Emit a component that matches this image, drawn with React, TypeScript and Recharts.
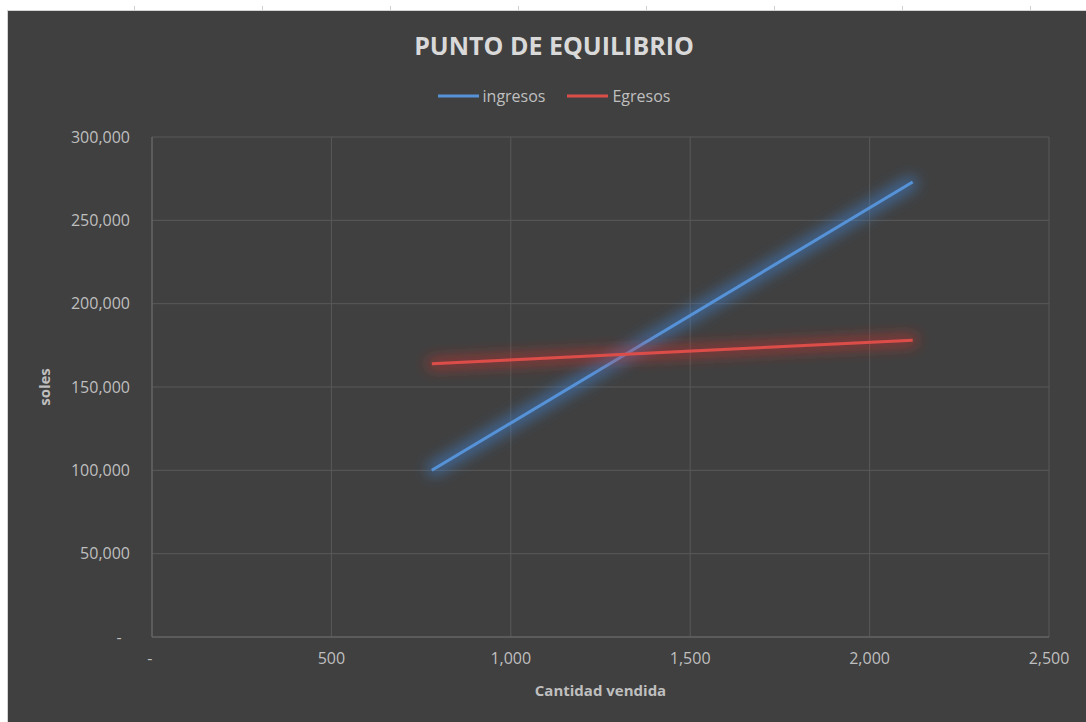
import React from "react";
import { CartesianGrid, Label, Line, LineChart, XAxis, YAxis } from "recharts";

const cantidad = [780, 2120];
const ingresos = [100000, 273000];
const egresos = [164000, 178000];

const xTicks = [0, 500, 1000, 1500, 2000, 2500];
const yTicks = [0, 50000, 100000, 150000, 200000, 250000, 300000];

const seriesNames = ["ingresos", "Egresos"];
const seriesColors = ["#5692D8", "#DC4E48"];

const rows = cantidad.map((c, i) => ({ cantidad: c, ingresos: ingresos[i], egresos: egresos[i] }));

const FONT = "'Open Sans', 'Noto Sans', sans-serif";
const TICK = "#BFBFBF";

const fmtX = (v: number) => (v === 0 ? "-\u00A0" : v.toLocaleString("en-US"));
const fmtY = (v: number) => (v === 0 ? "-\u00A0\u00A0" : v.toLocaleString("en-US"));

function LegendRow() {
  return (
    <div
      style={{
        position: "absolute",
        left: 0,
        width: 1092,
        top: 74,
        display: "flex",
        justifyContent: "center",
        alignItems: "center",
        fontFamily: FONT,
        fontSize: 16,
        color: TICK,
      }}
    >
      {seriesNames.map((name, i) => (
        <div key={name} style={{ display: "flex", alignItems: "center", marginRight: i === 0 ? 22 : 0 }}>
          <svg width={41} height={4} style={{ marginRight: 4 }}>
            <line x1={0} y1={2} x2={41} y2={2} stroke={seriesColors[i]} strokeWidth={3} />
          </svg>
          <span>{name}</span>
        </div>
      ))}
    </div>
  );
}

// soft halo round each line, like the spreadsheet's glow effect
function Glow({ id, color }: { id: string; color: string }) {
  return (
    <filter id={id} filterUnits="userSpaceOnUse" x={0} y={0} width={1100} height={800}>
      <feMorphology in="SourceAlpha" operator="dilate" radius={4} result="thick" />
      <feGaussianBlur in="thick" stdDeviation={7} result="blur" />
      <feFlood floodColor={color} floodOpacity={0.55} />
      <feComposite in2="blur" operator="in" result="glow" />
      <feMerge>
        <feMergeNode in="glow" />
        <feMergeNode in="SourceGraphic" />
      </feMerge>
    </filter>
  );
}

export default function App() {
  return (
    <div style={{ position: "absolute", left: 0, top: 0, width: 1086, height: 722, background: "#fff", overflow: "hidden" }}>
      <svg width={0} height={0} style={{ position: "absolute" }}>
        <defs>
          <Glow id="glowBlue" color="#3F86DA" />
          <Glow id="glowRed" color="#D8302A" />
        </defs>
      </svg>
      {[134, 262, 390, 518, 646, 774, 902, 1030].map((x) => (
        <div key={x} style={{ position: "absolute", left: x, top: 6, width: 1, height: 4, background: "#D0D0D0" }} />
      ))}
      <div
        style={{
          position: "absolute",
          left: 7,
          top: 10,
          width: 1078,
          height: 711,
          background: "#404040",
          borderLeft: "1px solid #D4D4D4",
          borderTop: "1px solid #D4D4D4",
        }}
      >
        <div
          style={{
            position: "absolute",
            left: 0,
            width: 1092,
            top: 17,
            textAlign: "center",
            fontFamily: FONT,
            fontWeight: 700,
            fontSize: 25,
            color: "#D9D9D9",
          }}
        >
          PUNTO DE EQUILIBRIO
        </div>
        <LegendRow />
        <LineChart width={1078} height={711} data={rows} margin={{ top: 126, right: 37, left: 0, bottom: 0 }}>
          <CartesianGrid stroke="#595959" strokeWidth={1} verticalValues={xTicks} horizontalValues={yTicks} />
          <XAxis
            type="number"
            dataKey="cantidad"
            domain={[0, 2500]}
            ticks={xTicks}
            tickFormatter={fmtX}
            height={85}
            tickLine={false}
            tickSize={0}
            tickMargin={16}
            stroke="#6B6B6B"
            tick={{ fill: TICK, fontSize: 16, fontFamily: FONT }}
          >
            <Label
              content={({ viewBox }: any) => (
                <text
                  x={viewBox.x + viewBox.width / 2}
                  y={685}
                  textAnchor="middle"
                  fill={TICK}
                  fontFamily={FONT}
                  fontWeight={700}
                  fontSize={15}
                >
                  Cantidad vendida
                </text>
              )}
            />
          </XAxis>
          <YAxis
            type="number"
            domain={[0, 300000]}
            ticks={yTicks}
            tickFormatter={fmtY}
            width={144}
            tickLine={false}
            tickSize={0}
            tickMargin={22}
            stroke="#6B6B6B"
            tick={{ fill: TICK, fontSize: 16, fontFamily: FONT }}
          >
            <Label
              content={({ viewBox }: any) => {
                const cx = 37;
                const cy = viewBox.y + viewBox.height / 2;
                return (
                  <text
                    x={cx}
                    y={cy}
                    dy={5}
                    transform={`rotate(-90, ${cx}, ${cy})`}
                    textAnchor="middle"
                    fill={TICK}
                    fontFamily={FONT}
                    fontWeight={700}
                    fontSize={15}
                  >
                    soles
                  </text>
                );
              }}
            />
          </YAxis>
          <Line
            type="linear"
            dataKey="ingresos"
            name="ingresos"
            stroke={seriesColors[0]}
            strokeWidth={3}
            dot={false}
            filter="url(#glowBlue)"
            isAnimationActive={false}
          />
          <Line
            type="linear"
            dataKey="egresos"
            name="Egresos"
            stroke={seriesColors[1]}
            strokeWidth={3}
            dot={false}
            filter="url(#glowRed)"
            isAnimationActive={false}
          />
        </LineChart>
      </div>
    </div>
  );
}
